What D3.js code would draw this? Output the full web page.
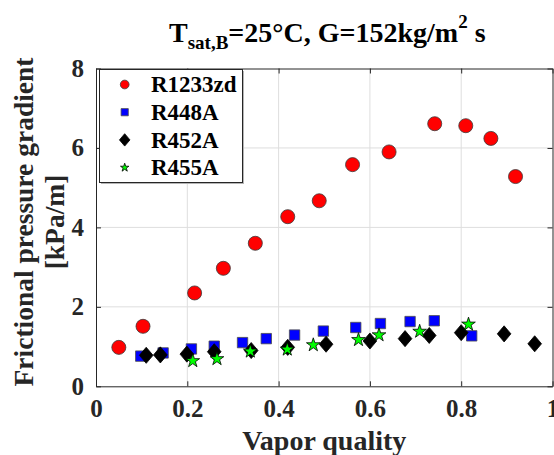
<!DOCTYPE html>
<html>
<head>
<meta charset="utf-8">
<script src="https://cdn.jsdelivr.net/npm/d3@7"></script>
<style>
  body { margin: 0; background: #fff; }
  svg text { font-family: "Liberation Serif", "Times New Roman", serif; font-weight: bold; }
</style>
</head>
<body>
<div id="chart"></div>
<script>
// values
const xTicks = [0, 0.2, 0.4, 0.6, 0.8, 1];
const yTicks = [0, 2, 4, 6, 8];

const r1233zdX = [0.05, 0.103, 0.216, 0.279, 0.349, 0.42, 0.489, 0.562, 0.642, 0.742, 0.81, 0.865, 0.919];
const r1233zdY = [0.98, 1.51, 2.35, 2.97, 3.60, 4.27, 4.67, 5.58, 5.90, 6.61, 6.56, 6.24, 5.28];

const r448aX = [0.098, 0.147, 0.209, 0.259, 0.321, 0.373, 0.435, 0.498, 0.569, 0.623, 0.688, 0.741, 0.823];
const r448aY = [0.76, 0.84, 0.94, 1.01, 1.10, 1.20, 1.29, 1.39, 1.48, 1.58, 1.63, 1.65, 1.27];

const r452aX = [0.110, 0.141, 0.199, 0.259, 0.340, 0.420, 0.504, 0.600, 0.677, 0.730, 0.800, 0.894, 0.961];
const r452aY = [0.78, 0.79, 0.81, 0.87, 0.90, 0.98, 1.06, 1.14, 1.20, 1.28, 1.35, 1.32, 1.07];

const r455aX = [0.212, 0.265, 0.338, 0.419, 0.476, 0.575, 0.620, 0.709, 0.816];
const r455aY = [0.64, 0.69, 0.88, 0.93, 1.04, 1.17, 1.29, 1.38, 1.56];

const names = ["R1233zd", "R448A", "R452A", "R455A"];

const width = 554, height = 455;
const svg = d3.select("#chart").append("svg")
    .attr("width", width)
    .attr("height", height);

const x = d3.scaleLinear().domain([0, 1]).range([96, 552.5]);
const y = d3.scaleLinear().domain([0, 8]).range([386.3, 68.5]);

const axisColor = "#262626";

// grid
const grid = svg.append("g");
grid.selectAll(".gx").data(xTicks.slice(1, -1)).join("line")
    .attr("x1", d => x(d)).attr("x2", d => x(d))
    .attr("y1", y(0)).attr("y2", y(8))
    .attr("stroke", "#dedede").attr("stroke-width", 1);
grid.selectAll(".gy").data(yTicks.slice(1, -1)).join("line")
    .attr("y1", d => y(d)).attr("y2", d => y(d))
    .attr("x1", x(0)).attr("x2", x(1))
    .attr("stroke", "#dedede").attr("stroke-width", 1);

// axes with inward ticks on all four sides
const tickLen = 5;
function styleAxis(g) {
    g.attr("font-family", null);
    g.select(".domain").attr("stroke", axisColor).attr("stroke-width", 1);
    g.selectAll(".tick line").attr("stroke", axisColor);
    g.selectAll("text").attr("font-size", 25).attr("fill", axisColor);
}
svg.append("g").attr("transform", `translate(0,${y(0)})`)
    .call(d3.axisBottom(x).tickValues(xTicks).tickFormat(d3.format("~g"))
        .tickSizeInner(-tickLen).tickSizeOuter(0).tickPadding(13))
    .call(styleAxis);
svg.append("g").attr("transform", `translate(0,${y(8)})`)
    .call(d3.axisTop(x).tickValues(xTicks).tickFormat("")
        .tickSizeInner(-tickLen).tickSizeOuter(0))
    .call(styleAxis);
svg.append("g").attr("transform", `translate(${x(0)},0)`)
    .call(d3.axisLeft(y).tickValues(yTicks)
        .tickSizeInner(-tickLen).tickSizeOuter(0).tickPadding(12))
    .call(styleAxis);
svg.append("g").attr("transform", `translate(${x(1)},0)`)
    .call(d3.axisRight(y).tickValues(yTicks).tickFormat("")
        .tickSizeInner(-tickLen).tickSizeOuter(0))
    .call(styleAxis);

// diamond a bit wider than d3's default (width/height = 0.85)
const wideDiamond = {
    draw(context, size) {
        const h = Math.sqrt(size / 1.7);
        const w = h * 0.85;
        context.moveTo(0, -h);
        context.lineTo(w, 0);
        context.lineTo(0, h);
        context.lineTo(-w, 0);
        context.closePath();
    }
};

const series = [
    { xs: r1233zdX, ys: r1233zdY, type: d3.symbolCircle, size: 155, fill: "#ff0000", stroke: "#3a3a3a", lsize: 60 },
    { xs: r448aX, ys: r448aY, type: d3.symbolSquare, size: 108, fill: "#0000ff", stroke: "#4d4d4d", lsize: 52 },
    { xs: r452aX, ys: r452aY, type: wideDiamond, size: 110, fill: "#000000", stroke: "#000000", lsize: 65 },
    { xs: r455aX, ys: r455aY, type: d3.symbolStar, size: 58, fill: "#00ff00", stroke: "#000000", lsize: 22 }
];

series.forEach(s => {
    svg.append("g").selectAll("path")
        .data(s.xs.map((v, i) => [v, s.ys[i]]))
        .join("path")
        .attr("transform", d => `translate(${x(d[0])},${y(d[1])})`)
        .attr("d", d3.symbol().type(s.type).size(s.size))
        .attr("fill", s.fill)
        .attr("stroke", s.stroke)
        .attr("stroke-width", 0.8);
});

// legend
const legend = svg.append("g");
legend.append("rect")
    .attr("x", 101).attr("y", 71).attr("width", 143).attr("height", 113)
    .attr("fill", "#b5b5b5");
legend.append("rect")
    .attr("x", 99.5).attr("y", 69.5).attr("width", 143).attr("height", 113)
    .attr("fill", "#fff").attr("stroke", axisColor).attr("stroke-width", 1);
names.forEach((n, i) => {
    const cy = 84.5 + i * 27.7;
    legend.append("path")
        .attr("transform", `translate(124.7,${cy})`)
        .attr("d", d3.symbol().type(series[i].type).size(series[i].lsize))
        .attr("fill", series[i].fill)
        .attr("stroke", series[i].stroke)
        .attr("stroke-width", 0.8);
    legend.append("text")
        .attr("x", 151).attr("y", cy + 7.8)
        .attr("font-size", 23)
        .attr("fill", "#000")
        .text(n);
});

// title with sub/superscripts
const title = svg.append("text")
    .attr("x", 169).attr("y", 42)
    .attr("font-size", 28)
    .attr("fill", "#000");
title.append("tspan").text("T");
title.append("tspan").attr("font-size", 19).attr("dy", 7).text("sat,B");
title.append("tspan").attr("dy", -7).text("=25°C, G=152kg/m");
title.append("tspan").attr("font-size", 19).attr("dy", -14).text("2");
title.append("tspan").attr("dy", 14).text(" s");

// axis labels
svg.append("text")
    .attr("x", x(0.5)).attr("y", 450)
    .attr("text-anchor", "middle")
    .attr("font-size", 28)
    .attr("fill", axisColor)
    .text("Vapor quality");

svg.append("text")
    .attr("transform", "translate(33,222) rotate(-90)")
    .attr("text-anchor", "middle")
    .attr("font-size", 27.5)
    .attr("fill", axisColor)
    .text("Frictional pressure gradient");
svg.append("text")
    .attr("transform", "translate(64,222) rotate(-90)")
    .attr("text-anchor", "middle")
    .attr("font-size", 27.5)
    .attr("fill", axisColor)
    .text("[kPa/m]");
</script>
</body>
</html>
